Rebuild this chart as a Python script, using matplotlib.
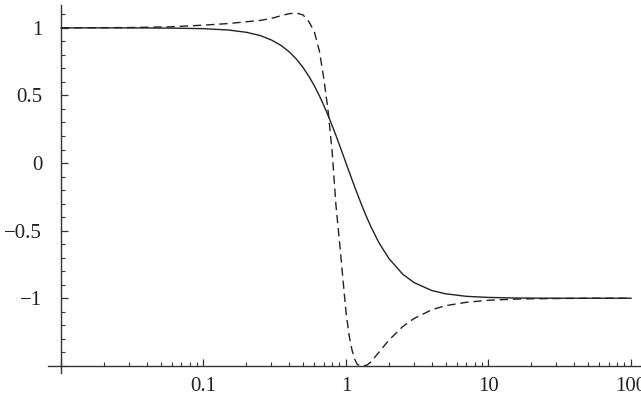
import matplotlib
matplotlib.use('Agg')

import matplotlib.pyplot as plt
import numpy as np
from matplotlib.ticker import FixedLocator, NullFormatter

# values
x_vals = [0.01, 0.03, 0.06, 0.1, 0.15, 0.2, 0.25, 0.3, 0.35, 0.4, 0.45, 0.5,
          0.55, 0.6, 0.65, 0.7, 0.75, 0.8, 0.85, 0.9, 0.95, 1.0, 1.05, 1.1,
          1.15, 1.2, 1.3, 1.4, 1.5, 1.7, 2.0, 2.5, 3.0, 4.0, 5.0, 7.0, 10,
          15, 20, 30, 50, 100]
solid_vals = [1.0, 0.9997, 0.998, 0.994, 0.984, 0.967, 0.943, 0.910, 0.870,
              0.822, 0.767, 0.706, 0.640, 0.571, 0.498, 0.424, 0.350, 0.276,
              0.204, 0.133, 0.065, 0.0, -0.062, -0.120, -0.176, -0.227,
              -0.321, -0.403, -0.474, -0.588, -0.706, -0.822, -0.884, -0.943,
              -0.967, -0.986, -0.994, -0.998, -0.999, -1.0, -1.0, -1.0]
dashed_vals = [1.0, 1.002, 1.008, 1.02, 1.032, 1.045, 1.055, 1.07, 1.09,
               1.105, 1.11, 1.095, 1.045, 0.97, 0.83, 0.62, 0.38, 0.08,
               -0.31, -0.58, -0.85, -1.1, -1.27, -1.38, -1.45, -1.49, -1.5,
               -1.495, -1.47, -1.40, -1.31, -1.21, -1.15, -1.085, -1.055,
               -1.03, -1.015, -1.007, -1.004, -1.002, -1.0, -1.0]

x_major = [0.01, 0.1, 1, 10, 100]
x_labels = ['', '0.1', '1', '10', '100']
y_major = [-1, -0.5, 0, 0.5, 1]
y_labels = ['\u22121', '\u22120.5', '0', '0.5', '1']

plt.rcParams['font.family'] = ['Liberation Serif', 'DejaVu Serif']

fig = plt.figure(figsize=(6.41, 4.0), dpi=100)
ax = fig.add_axes([48 / 641, 27 / 400, 593 / 641, 368 / 400])

line_col = '#222222'
ax.plot(x_vals, solid_vals, color=line_col, lw=1.0)
ax.plot(x_vals, dashed_vals, color=line_col, lw=1.0, dashes=(6, 3.5))

ax.set_xscale('log')
ax.set_xlim(10 ** -2.0912, 10 ** 2.0702)
ax.set_ylim(-1.553, 1.169)

for s in ['top', 'right']:
    ax.spines[s].set_visible(False)
ax.spines['left'].set_position(('data', 0.01))
ax.spines['bottom'].set_position(('data', -1.5))
for s in ['left', 'bottom']:
    ax.spines[s].set_color('#333333')
    ax.spines[s].set_linewidth(1.0)

ax.xaxis.set_major_locator(FixedLocator(x_major))
ax.set_xticklabels(x_labels)
x_minor = [m * 10.0 ** e for e in range(-2, 2) for m in range(2, 10)]
ax.xaxis.set_minor_locator(FixedLocator(x_minor))
ax.xaxis.set_minor_formatter(NullFormatter())

ax.set_yticks(y_major)
ax.set_yticklabels(y_labels)
y_minor = [round(v, 1) for v in np.arange(-1.5, 1.15, 0.1)]
ax.yaxis.set_minor_locator(FixedLocator(y_minor))

ax.tick_params(which='major', direction='in', length=5, width=0.9,
               color='#333333', labelsize=15, labelcolor='#222222')
ax.tick_params(which='minor', direction='in', length=3, width=0.8,
               color='#333333')
ax.tick_params(axis='y', which='major', pad=13.5)
ax.tick_params(axis='x', which='major', pad=8)

fig.savefig('out.png', dpi=100)
plt.close(fig)
